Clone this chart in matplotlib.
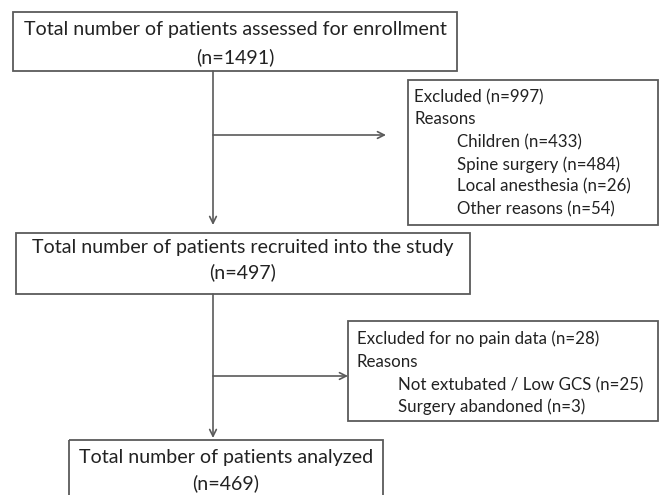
import matplotlib
matplotlib.use("Agg")
import matplotlib.pyplot as plt
from matplotlib.patches import Rectangle

plt.rcParams['font.family'] = ['Lato', 'DejaVu Sans']

# ---- content ----
main_titles = ["Total number of patients assessed for enrollment",
               "Total number of patients recruited into the study",
               "Total number of patients analyzed"]
main_counts = [1491, 497, 469]

excl1_header = "Excluded (n=997)"
excl1_reasons = ["Children (n=433)", "Spine surgery (n=484)",
                 "Local anesthesia (n=26)", "Other reasons (n=54)"]
excl2_header = "Excluded for no pain data (n=28)"
excl2_reasons = ["Not extubated / Low GCS (n=25)", "Surgery abandoned (n=3)"]

W, H = 659, 495
fig = plt.figure(figsize=(W / 100, H / 100), dpi=100)
ax = fig.add_axes([0, 0, 1, 1])
ax.set_xlim(0, W)
ax.set_ylim(H, 0)
ax.axis('off')

edge = '#5a5a5a'
txt = '#222222'
lw = 1.3

def box(x0, y0, x1, y1):
    ax.add_patch(Rectangle((x0, y0), x1 - x0, y1 - y0, fill=False,
                           edgecolor=edge, linewidth=lw, clip_on=False))

def arrow(x0, y0, x1, y1):
    ax.annotate('', xy=(x1, y1), xytext=(x0, y0),
                arrowprops=dict(arrowstyle='->', color=edge, lw=1.2,
                                shrinkA=0, shrinkB=0, mutation_scale=12))

big = 14.1
small = 12.2

# main boxes
main_boxes = [(13, 12, 457, 71), (16, 233, 470, 294), (69, 440, 383, 520)]
main_lines = [(30, 57), (247, 272), (458, 483)]
for (x0, y0, x1, y1), (l1, l2), t, n in zip(main_boxes, main_lines, main_titles, main_counts):
    box(x0, y0, x1, y1)
    cx = (x0 + x1) / 2
    ax.text(cx, l1, t, ha='center', va='center', fontsize=big, color=txt)
    ax.text(cx, l2, f"(n={n})", ha='center', va='center', fontsize=big, color=txt)

# exclusion boxes
box(408, 80, 658, 225)
ax.text(414, 97, excl1_header, ha='left', va='center', fontsize=small, color=txt)
ax.text(414, 119.5, "Reasons", ha='left', va='center', fontsize=small, color=txt)
for i, r in enumerate(excl1_reasons):
    ax.text(457, 142 + 22.3 * i, r, ha='left', va='center', fontsize=small, color=txt)

box(348, 321, 658, 421)
ax.text(357, 339, excl2_header, ha='left', va='center', fontsize=small, color=txt)
ax.text(357, 362, "Reasons", ha='left', va='center', fontsize=small, color=txt)
for i, r in enumerate(excl2_reasons):
    ax.text(398, 385 + 21.5 * i, r, ha='left', va='center', fontsize=small, color=txt)

# connectors
vx = 213
arrow(vx, 71, vx, 225)
arrow(vx, 135, 386, 135)
arrow(vx, 294, vx, 438)
arrow(vx, 376, 348, 376)

fig.savefig('out.png', dpi=100)
